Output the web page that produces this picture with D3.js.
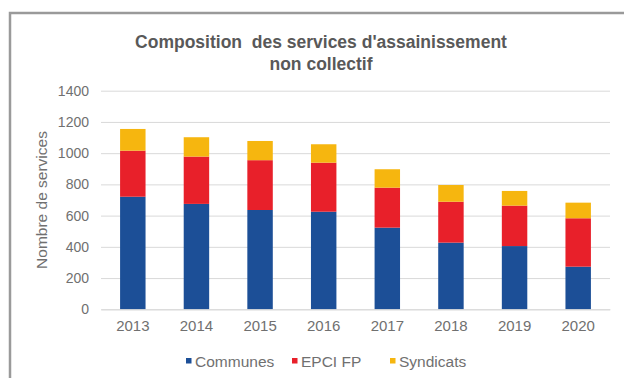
<!DOCTYPE html>
<html>
<head>
<meta charset="utf-8">
<script src="https://cdn.jsdelivr.net/npm/d3@7"></script>
<style>
  html, body { margin: 0; padding: 0; background: #fff; }
  svg { display: block; font-family: "Liberation Sans", Arial, sans-serif; }
</style>
</head>
<body>
<svg id="chart" width="624" height="378"></svg>
<script>
// Services d'assainissement non collectif, by type of organising body
const years = ["2013", "2014", "2015", "2016", "2017", "2018", "2019", "2020"];
const communes = [721, 675, 636, 625, 523, 427, 405, 273];
const epciFP = [295, 303, 319, 314, 256, 262, 259, 310];
const syndicats = [139, 124, 123, 118, 118, 107, 94, 100];
const seriesNames = ["Communes", "EPCI FP", "Syndicats"];
const seriesColors = ["#1c4f97", "#e8202a", "#f6b60f"];
const yTicks = [0, 200, 400, 600, 800, 1000, 1200, 1400];

const svg = d3.select("#chart");
const W = 624, H = 378;
const margin = { left: 101, right: 14, top: 90.7, bottom: 68.7 };

// outer frame: only its top and left edges fall inside the view
svg.append("path")
  .attr("d", `M10,${H} V13 H${W}`)
  .attr("fill", "none")
  .attr("stroke", "#9a9a9a")
  .attr("stroke-width", 2.5);

const x = d3.scaleBand()
  .domain(years)
  .range([margin.left, W - margin.right])
  .paddingInner(0.6)
  .paddingOuter(0.3);

const y = d3.scaleLinear()
  .domain([0, 1400])
  .range([H - margin.bottom, margin.top]);

// horizontal gridlines
const yAxis = d3.axisLeft(y)
  .tickValues(yTicks)
  .tickFormat(d3.format("d"))
  .tickSize(-(W - margin.right - margin.left))
  .tickPadding(12);
const gy = svg.append("g").attr("transform", `translate(${margin.left},0)`).call(yAxis);
gy.select(".domain").remove();
gy.selectAll(".tick line").attr("stroke", "#d9d9d9").attr("stroke-width", 1);
gy.selectAll(".tick text")
  .attr("fill", "#707070")
  .style("font-size", "14px")
  .style("font-family", "'Liberation Sans', Arial, sans-serif");

// stacked bars
const rows = years.map((yr, i) => ({ year: yr, Communes: communes[i], "EPCI FP": epciFP[i], Syndicats: syndicats[i] }));
const stack = d3.stack().keys(seriesNames)(rows);
const color = d3.scaleOrdinal().domain(seriesNames).range(seriesColors);

svg.append("g").selectAll("g")
  .data(stack)
  .join("g")
  .attr("fill", d => color(d.key))
  .selectAll("rect")
  .data(d => d)
  .join("rect")
  .attr("x", d => x(d.data.year))
  .attr("width", x.bandwidth())
  .attr("y", d => y(d[1]))
  .attr("height", d => y(d[0]) - y(d[1]));

// x axis
const xAxis = d3.axisBottom(x).tickSize(0).tickPadding(11);
const gx = svg.append("g").attr("transform", `translate(0,${y(0)})`).call(xAxis);
gx.select(".domain").attr("stroke", "#d9d9d9");
gx.selectAll(".tick text")
  .attr("fill", "#707070")
  .style("font-size", "15px")
  .style("font-family", "'Liberation Sans', Arial, sans-serif");

// y axis title
svg.append("text")
  .attr("transform", `translate(47,200) rotate(-90)`)
  .attr("text-anchor", "middle")
  .attr("fill", "#707070")
  .style("font-size", "15.5px")
  .text("Nombre de services");

// chart title
const title = svg.append("text")
  .attr("text-anchor", "middle")
  .attr("fill", "#595959")
  .attr("xml:space", "preserve")
  .style("white-space", "pre")
  .style("font-size", "17.5px")
  .style("font-weight", "bold");
title.append("tspan").attr("x", 321).attr("y", 48).text("Composition  des services d'assainissement");
title.append("tspan").attr("x", 321).attr("y", 70).text("non collectif");

// legend
const legendItems = [
  { name: "Communes", x: 186 },
  { name: "EPCI FP", x: 292 },
  { name: "Syndicats", x: 390 }
];
const lg = svg.append("g").selectAll("g").data(legendItems).join("g")
  .attr("transform", d => `translate(${d.x},361)`);
lg.append("rect").attr("x", 0).attr("y", -3).attr("width", 5.5).attr("height", 5.5).attr("fill", d => color(d.name));
lg.append("text").attr("x", 9).attr("y", 5.5)
  .attr("fill", "#707070")
  .style("font-size", "15.5px")
  .text(d => d.name);
</script>
</body>
</html>
